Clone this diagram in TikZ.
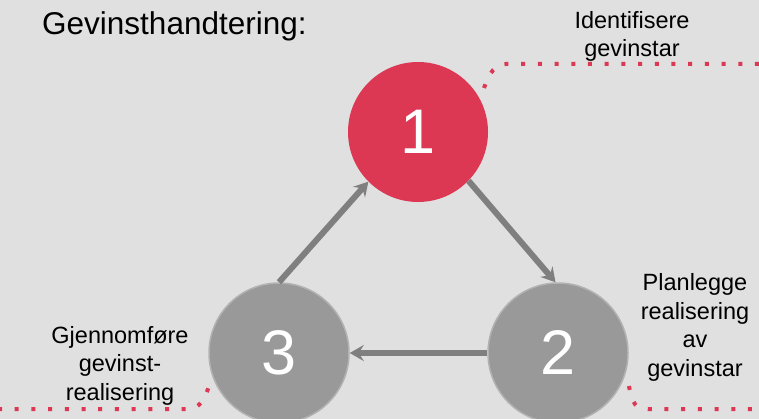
\documentclass[tikz,border=0pt]{standalone}
\usepackage{fontspec}
\setmainfont{Liberation Sans}
\usetikzlibrary{arrows.meta}
\definecolor{gevred}{HTML}{DC3853}
\definecolor{gevgrey}{HTML}{999999}
\definecolor{rimgrey}{HTML}{B2B2B2}
\definecolor{arrowgrey}{HTML}{7F7F7F}
\definecolor{bggrey}{HTML}{E0E0E0}

\begin{document}
\begin{tikzpicture}[x=1pt, y=-1pt,
  stepnode/.style={circle, minimum size=140pt, inner sep=0pt, text=white, font=\fontsize{63}{70}\selectfont},
  steptext/.style={align=center, inner sep=0pt, font=\fontsize{23.5}{28.5}\selectfont},
  cyclearrow/.style={draw=arrowgrey, line width=6pt, -{Stealth[length=14pt,width=16pt,inset=5pt]}},
  reddots/.style={draw=gevred, line width=4pt, dash pattern=on 4pt off 12.7pt}]
  \fill[bggrey] (0,0) rectangle (759,419);
  \useasboundingbox (0,0) rectangle (759,419);

  \node[anchor=base west, inner sep=0pt, font=\fontsize{31.5}{38}\selectfont] (title) at (42,35) {Gevinsthandtering:};

  \node[stepnode, fill=gevred] (A) at (418,132) {1};
  \node[stepnode, fill=gevgrey, draw=rimgrey, line width=1.5pt] (B) at (558,353) {2};
  \node[stepnode, fill=gevgrey, draw=rimgrey, line width=1.5pt] (C) at (279,353) {3};

  \draw[cyclearrow] (A.-44) -- (B.92);
  \draw[cyclearrow] (B.west) -- (C.east);
  \draw[cyclearrow] (C.north) -- (A.-135);

  \node[steptext] (tA) at (632,36.5) {Identifisere\\gevinstar};
  \node[steptext] (tB) at (695,327.5) {Planlegge\\realisering\\av\\gevinstar};
  \node[steptext] (tC) at (120,365.5) {Gjennomføre\\gevinst-\\realisering};

  \draw[reddots] (484,88) .. controls (490,72) and (495,64) .. (506,64) -- (760,64);
  \draw[reddots] (-2,409) -- (188,409) .. controls (200,409) and (205,398) .. (209,386);
  \draw[reddots] (629,386) .. controls (632,404) and (636,409) .. (648,409) -- (760,409);
\end{tikzpicture}
\end{document}
